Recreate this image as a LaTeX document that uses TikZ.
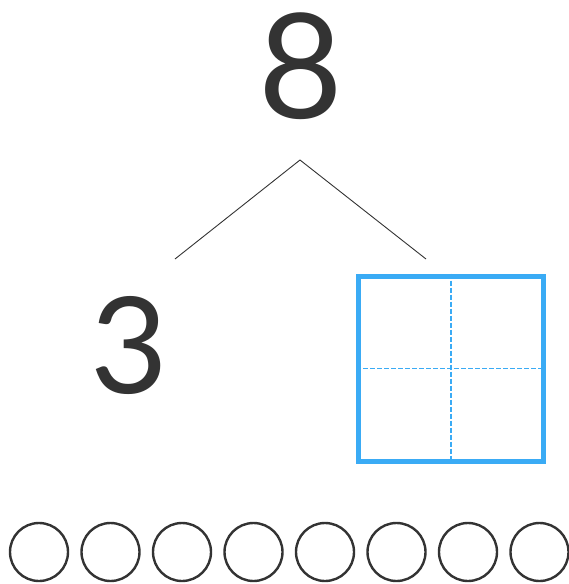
\documentclass[tikz,border=0pt]{standalone}
\usepackage{fontspec}
\setmainfont{Lato}
\definecolor{ink}{HTML}{333333}
\definecolor{boxblue}{HTML}{3AABF5}
\begin{document}
\begin{tikzpicture}[x=1pt,y=-1pt,
  digit/.style={text=ink, inner sep=0pt, anchor=center},
  bond/.style={draw=ink, line width=0.9pt},
  dot/.style={draw=ink, line width=2.4pt, circle, minimum size=58pt, inner sep=0pt},
  frame/.style={draw=boxblue, line width=5pt},
  grid/.style={draw=boxblue, line width=1.4pt, dash pattern=on 5pt off 2pt}]
\useasboundingbox (0,0) rectangle (568,584);
\node[digit, font=\fontsize{146}{146}\selectfont] (whole) at (301,66) {8};
\node[digit, font=\fontsize{134}{134}\selectfont] (part) at (129,345) {3};
\coordinate (top) at (300,160);
\coordinate (lend) at (175,259);
\coordinate (rend) at (426,259);
\draw[bond] (lend) -- (top) -- (rend);
\node[frame, minimum width=185pt, minimum height=185pt, inner sep=0pt] (box) at (451,368.5) {};
\draw[grid] (box.north) -- (box.south);
\draw[grid] (box.west) -- (box.east);
\foreach \i in {0,...,7}{
  \node[dot] (c\i) at ({39+71.5*\i},552) {};
}
\end{tikzpicture}
\end{document}
